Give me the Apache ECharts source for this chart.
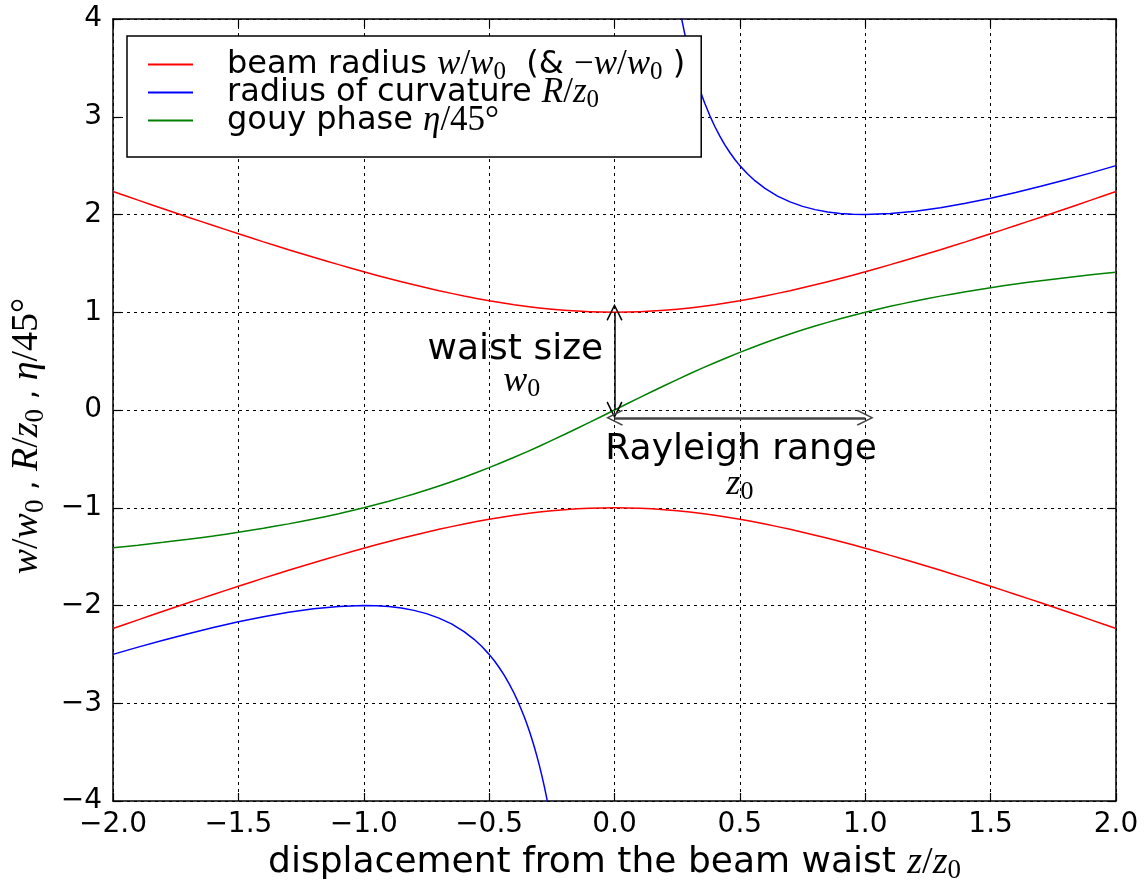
<!DOCTYPE html>
<html>
<head>
<meta charset="utf-8">
<script src="https://cdn.jsdelivr.net/npm/echarts@6/dist/echarts.min.js"></script>
<style>html,body{margin:0;padding:0;background:#fff}#c{width:1144px;height:880px}</style>
</head>
<body>
<div id="c"></div>
<script>
// ---- data ----
const zValues = [-2.0,-1.9,-1.8,-1.7,-1.6,-1.5,-1.4,-1.3,-1.2,-1.1,-1.0,-0.9,-0.8,-0.7,-0.6,-0.5,-0.4,-0.3,-0.2,-0.1,0.0,
  0.1,0.2,0.3,0.4,0.5,0.6,0.7,0.8,0.9,1.0,1.1,1.2,1.3,1.4,1.5,1.6,1.7,1.8,1.9,2.0];
const beamRadiusUpper = [2.236,2.147,2.059,1.972,1.887,1.803,1.720,1.640,1.562,1.487,1.414,1.345,1.281,1.221,1.166,1.118,1.077,1.044,1.020,1.005,1.000,
  1.005,1.020,1.044,1.077,1.118,1.166,1.221,1.281,1.345,1.414,1.487,1.562,1.640,1.720,1.803,1.887,1.972,2.059,2.147,2.236];
const beamRadiusLower = [-2.236,-2.147,-2.059,-1.972,-1.887,-1.803,-1.720,-1.640,-1.562,-1.487,-1.414,-1.345,-1.281,-1.221,-1.166,-1.118,-1.077,-1.044,-1.020,-1.005,-1.000,
  -1.005,-1.020,-1.044,-1.077,-1.118,-1.166,-1.221,-1.281,-1.345,-1.414,-1.487,-1.562,-1.640,-1.720,-1.803,-1.887,-1.972,-2.059,-2.147,-2.236];
const gouyPhase = [-1.410,-1.383,-1.354,-1.323,-1.289,-1.251,-1.210,-1.165,-1.115,-1.061,-1.000,-0.933,-0.859,-0.778,-0.688,-0.590,-0.484,-0.371,-0.251,-0.127,0.000,
  0.127,0.251,0.371,0.484,0.590,0.688,0.778,0.859,0.933,1.000,1.061,1.115,1.165,1.210,1.251,1.289,1.323,1.354,1.383,1.410];
const curvZPos = [0.26,0.27,0.28,0.29,0.30,0.31,0.32,0.33,0.34,0.35,0.36,0.38,0.40,0.42,0.44,0.46,0.48,0.50,0.53,0.56,0.60,0.65,0.70,0.75,0.80,0.85,0.90,0.95,1.00,
  1.10,1.20,1.30,1.40,1.50,1.60,1.70,1.80,1.90,2.00];
const curvRPos = [4.106,3.974,3.851,3.738,3.633,3.536,3.445,3.360,3.281,3.207,3.138,3.012,2.900,2.801,2.713,2.634,2.563,2.500,2.417,2.346,2.267,2.188,2.129,2.083,2.050,2.026,2.011,2.003,2.000,
  2.009,2.033,2.069,2.114,2.167,2.225,2.288,2.356,2.426,2.500];
const curvZNeg = [-2.00,-1.90,-1.80,-1.70,-1.60,-1.50,-1.40,-1.30,-1.20,-1.10,-1.00,-0.95,-0.90,-0.85,-0.80,-0.75,-0.70,-0.65,-0.60,-0.56,-0.53,-0.50,-0.48,-0.46,-0.44,-0.42,-0.40,-0.38,-0.36,
  -0.35,-0.34,-0.33,-0.32,-0.31,-0.30,-0.29,-0.28,-0.27,-0.26];
const curvRNeg = [-2.500,-2.426,-2.356,-2.288,-2.225,-2.167,-2.114,-2.069,-2.033,-2.009,-2.000,-2.003,-2.011,-2.026,-2.050,-2.083,-2.129,-2.188,-2.267,-2.346,-2.417,-2.500,-2.563,-2.634,-2.713,-2.801,-2.900,-3.012,-3.138,
  -3.207,-3.281,-3.360,-3.445,-3.536,-3.633,-3.738,-3.851,-3.974,-4.106];
const xTicks = [-2.0,-1.5,-1.0,-0.5,0.0,0.5,1.0,1.5,2.0];
const yTicks = [-4,-3,-2,-1,0,1,2,3,4];
const seriesNames = ['beam radius', 'radius of curvature', 'gouy phase'];

const pairs = (xs, ys) => xs.map((x, i) => [x, ys[i]]);
const minus = v => String(v).replace('-', '\u2212');

const SERIF = '"Liberation Serif", "DejaVu Serif", serif';
const SANS = '"DejaVu Sans", sans-serif';
const mathRich = (fs, mf) => ({
  m: {fontFamily: SERIF, fontStyle: 'italic', fontSize: mf, color: '#000'},
  s: {fontFamily: SERIF, fontSize: Math.round(mf * 0.72), color: '#000', verticalAlign: 'bottom', padding: [Math.round(mf * 0.45), 0, 0, 0]},
  n: {fontFamily: SERIF, fontSize: mf, color: '#000'},
  t: {fontFamily: SANS, fontSize: fs, color: '#000'}
});

const legendLabels = {
  'beam radius': '{t|beam radius }{m|w}{n|/}{m|w}{s|0}{t|  (& }{n|\u2212}{m|w}{n|/}{m|w}{s|0}{t| )}',
  'radius of curvature': '{t|radius of curvature }{m|R}{n|/}{m|z}{s|0}',
  'gouy phase': '{t|gouy phase }{m|\u03b7}{n|/45\u00b0}'
};

const arrowPath = 'path://M5,0 L10,10 L9.2,10.6 L5,2.0 L0.8,10.6 L0,10 Z';

const chart = echarts.init(document.getElementById('c'), null, {renderer: 'canvas'});
const axisLine = {show: true, onZero: false, lineStyle: {color: '#000', width: 1.5}};
const axisTick = {show: true, inside: true, length: 8, lineStyle: {color: '#000', width: 1.2}};

const option = {
  animation: false,
  backgroundColor: '#fff',
  grid: {left: 113, right: 28, top: 19, bottom: 79, containLabel: false, outerBoundsMode: 'none'},
  legend: {
    show: true,
    data: seriesNames,
    orient: 'vertical',
    left: 127, top: 36,
    backgroundColor: '#fff',
    borderColor: '#000', borderWidth: 1.5, borderRadius: 0,
    padding: [11, 16, 19, 21],
    itemGap: -10,
    itemWidth: 45, itemHeight: 2,
    icon: 'rect',
    formatter: name => legendLabels[name],
    textStyle: {fontFamily: SANS, fontSize: 32, color: '#000', padding: [0, 0, 0, 29], rich: mathRich(32, 35)},
    z: 10
  },
  xAxis: [{
    type: 'value', min: -2, max: 2, interval: 0.5, position: 'bottom',
    axisLine, axisTick,
    axisLabel: {color: '#000', fontFamily: SANS, fontSize: 28, margin: 10, formatter: v => minus(v.toFixed(1))},
    splitLine: {show: true, lineStyle: {color: '#000', width: 1, type: [3, 4]}},
    name: '{t|displacement from the beam waist }{m|z}{n|/}{m|z}{s|0}',
    nameLocation: 'middle', nameGap: 32,
    nameTextStyle: {fontFamily: SANS, fontSize: 36, color: '#000', rich: mathRich(36, 38)}
  }, {
    type: 'value', min: -2, max: 2, interval: 0.5, position: 'top',
    axisLine, axisTick, axisLabel: {show: false}, splitLine: {show: false}
  }],
  yAxis: [{
    type: 'value', min: -4, max: 4, interval: 1, position: 'left',
    axisLine, axisTick,
    axisLabel: {color: '#000', fontFamily: SANS, fontSize: 28, margin: 11, formatter: v => minus(v)},
    splitLine: {show: true, lineStyle: {color: '#000', width: 1, type: [3, 4]}}
  }, {
    type: 'value', min: -4, max: 4, interval: 1, position: 'right',
    axisLine, axisTick, axisLabel: {show: false}, splitLine: {show: false}
  }],
  series: [
    {name: 'beam radius', type: 'line', data: pairs(zValues, beamRadiusUpper), showSymbol: false, smooth: 0.2, color: '#ff0000', lineStyle: {width: 1.5}},
    {name: 'beam radius', type: 'line', data: pairs(zValues, beamRadiusLower), showSymbol: false, smooth: 0.2, color: '#ff0000', lineStyle: {width: 1.5}},
    {name: 'radius of curvature', type: 'line', data: pairs(curvZPos, curvRPos), showSymbol: false, smooth: false, color: '#0000ff', lineStyle: {width: 1.5}, clip: true},
    {name: 'radius of curvature', type: 'line', data: pairs(curvZNeg, curvRNeg), showSymbol: false, smooth: false, color: '#0000ff', lineStyle: {width: 1.5}, clip: true},
    {name: 'gouy phase', type: 'line', data: pairs(zValues, gouyPhase), showSymbol: false, smooth: 0.2, color: '#008000', lineStyle: {width: 1.5},
      markLine: {
        silent: true, animation: false,
        symbol: [arrowPath, arrowPath], symbolSize: [16, 17],
        label: {show: false},
        data: [
          [{coord: [0, 1], lineStyle: {color: '#000', width: 1.5, type: 'solid'}, itemStyle: {color: '#000'}}, {coord: [0, 0]}],
          [{coord: [0, -0.08], lineStyle: {color: '#444', width: 2.5, type: 'solid'}, itemStyle: {color: '#444'}}, {coord: [1, -0.08]}]
        ]
      }
    }
  ]
};
chart.setOption(option);

// annotations placed in data coordinates
const notes = [
  {at: [-0.045, 0.62], text: 'waist size', align: 'right', rich: false, size: 36},
  {at: [-0.37, 0.29], text: '{m|w}{s|0}', align: 'center', rich: true, size: 36},
  {at: [0.505, -0.41], text: 'Rayleigh range', align: 'center', rich: false, size: 36},
  {at: [0.5, -0.76], text: '{m|z}{s|0}', align: 'center', rich: true, size: 36}
];
const ylabelAt = [-2.0, 0.0];
const graphics = notes.map(n => {
  const p = chart.convertToPixel({gridIndex: 0}, n.at);
  return {
    type: 'text', x: p[0], y: p[1], z: 20,
    style: {text: n.text, fontFamily: SANS, fontSize: n.size, fill: '#000', align: n.align, verticalAlign: 'middle',
      rich: n.rich ? mathRich(n.size, n.size) : undefined}
  };
});
const yl = chart.convertToPixel({gridIndex: 0}, ylabelAt);
graphics.push({
  type: 'text', x: yl[0] - 86, y: yl[1] + 26, rotation: Math.PI / 2, z: 20,
  style: {text: '{m|w}{n|/}{m|w}{s|0}{t| , }{m|R}{n|/}{m|z}{s|0}{t| , }{m|\u03b7}{n|/45\u00b0}', fontSize: 34, fill: '#000',
    align: 'center', verticalAlign: 'middle', rich: mathRich(30, 38)}
});
chart.setOption({graphic: graphics});
</script>
</body>
</html>
